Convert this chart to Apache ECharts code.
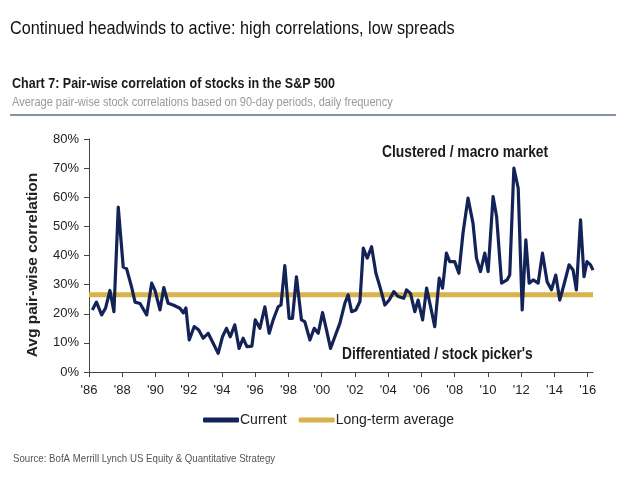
<!DOCTYPE html>
<html>
<head>
<meta charset="utf-8">
<script src="https://cdn.jsdelivr.net/npm/echarts@6/dist/echarts.min.js"></script>
<style>html,body{margin:0;padding:0;background:#fff;}#c{width:630px;height:490px;}</style>
</head>
<body>
<div id="c"></div>
<script>
var dates = [1986.2,1986.45,1986.76,1987.0,1987.26,1987.5,1987.76,1988.06,1988.26,1988.57,1988.77,1989.07,1989.47,1989.77,1989.97,1990.27,1990.5,1990.76,1991.06,1991.47,1991.67,1991.83,1992.03,1992.33,1992.6,1992.87,1993.17,1993.47,1993.77,1994.03,1994.27,1994.5,1994.77,1995.03,1995.27,1995.5,1995.8,1996.0,1996.28,1996.58,1996.84,1997.08,1997.38,1997.55,1997.78,1998.04,1998.24,1998.48,1998.78,1998.98,1999.29,1999.55,1999.79,2000.05,2000.29,2000.53,2000.79,2001.09,2001.39,2001.59,2001.8,2002.05,2002.3,2002.5,2002.74,2003.0,2003.26,2003.5,2003.8,2004.06,2004.34,2004.6,2004.94,2005.1,2005.34,2005.6,2005.8,2006.07,2006.31,2006.55,2006.8,2007.07,2007.27,2007.5,2007.7,2008.0,2008.25,2008.5,2008.8,2009.1,2009.31,2009.55,2009.81,2010.01,2010.31,2010.52,2010.82,2011.15,2011.31,2011.56,2011.82,2012.06,2012.28,2012.48,2012.72,2013.02,2013.28,2013.56,2013.82,2014.08,2014.32,2014.62,2014.88,2015.12,2015.32,2015.57,2015.78,2015.96,2016.17,2016.32];
var current = [21.3,24,19.6,22,28,20.7,56.6,36,35.5,29,24,23.5,19.6,30.5,28,21.3,29,23.6,23,21.9,20.3,22,11,15.6,14.4,11.6,13.3,9.9,6.4,12.1,15,12.1,16.2,8.1,11.6,8.7,8.9,17.9,15,22.4,13.3,17.9,22.4,23,36.5,18.4,18.4,32.7,17.9,17.3,11,15,13.3,20.4,14.4,8.1,12.1,16.7,23.6,26.5,20.7,21.3,24.2,42.5,39.1,43,33.9,29.3,23,24.7,27.6,25.9,25.3,28.2,27,20.7,24.7,17.9,28.8,22.4,15.6,32.2,28.8,40.8,37.9,37.9,33.9,47.7,59.7,51.1,39.1,34.5,40.8,34.5,60.2,53.4,30.5,31.6,33.3,70,63.1,21.3,45.4,30.5,31.6,30.5,40.8,31,28.2,33.3,24.7,31,36.8,35,28.2,52.2,32.7,37.9,36.8,35];
var longTermAverage = 26.5;
var xTicks = [1986,1988,1990,1992,1994,1996,1998,2000,2002,2004,2006,2008,2010,2012,2014,2016];

var sans = "'Liberation Sans',Arial,sans-serif";
var chart = echarts.init(document.getElementById('c'), null, {renderer:'canvas'});
var curData = dates.map(function(d,i){return [d, current[i]];});
var avgData = [[dates[0]-0.2, longTermAverage],[dates[dates.length-1], longTermAverage]];
function txt(x, y, s, font, fill, sx){
  return {type:'text', x:x, y:y, scaleX:sx, originX:0, z:10,
    style:{text:s, font:font, fill:fill, verticalAlign:'middle', align:'left'}};
}
chart.setOption({
  animation:false,
  backgroundColor:'#fff',
  graphic:[
    txt(10, 29, 'Continued headwinds to active: high correlations, low spreads', "19px "+sans, '#111', 0.854),
    txt(12, 84, 'Chart 7: Pair-wise correlation of stocks in the S&P 500', "bold 15px "+sans, '#1a1a1a', 0.835),
    txt(12, 103, 'Average pair-wise stock correlations based on 90-day periods, daily frequency', "12.5px "+sans, '#999', 0.88),
    txt(13, 459, 'Source: BofA Merrill Lynch US Equity & Quantitative Strategy', "11px "+sans, '#555', 0.88),
    {type:'line', shape:{x1:10,y1:115,x2:616,y2:115}, style:{stroke:'#5d6b8c', lineWidth:1.5}},
    txt(382, 153, 'Clustered / macro market', "bold 16px "+sans, '#1a1a1a', 0.865),
    txt(342, 355, "Differentiated / stock picker's", "bold 16px "+sans, '#1a1a1a', 0.857),
    {type:'text', x:33, y:265, rotation:Math.PI/2, z:10,
     style:{text:'Avg pair-wise correlation', font:"bold 15.5px "+sans, fill:'#222', align:'center', verticalAlign:'middle'}}
  ],
  legend:{
    bottom:58, left:198, itemGap:12,
    itemWidth:36, itemHeight:5, icon:'roundRect',
    textStyle:{fontFamily:sans, fontSize:14, color:'#222', padding:[0,0,0,-4]},
    data:['Current','Long-term average']
  },
  grid:{left:89, right:37, top:139, bottom:118},
  xAxis:{
    type:'value', min:1986, max:2016.32,
    axisLine:{lineStyle:{color:'#444', width:1}},
    axisTick:{show:true, length:5, customValues:xTicks, lineStyle:{color:'#444'}},
    axisLabel:{customValues:xTicks, fontFamily:sans, fontSize:13, color:'#222', margin:12,
      formatter:function(v){return "'"+String(v).slice(2);}},
    splitLine:{show:false}
  },
  yAxis:{
    type:'value', min:0, max:80, interval:10,
    axisLine:{show:true, lineStyle:{color:'#444', width:1}},
    axisTick:{show:true, length:5, lineStyle:{color:'#444'}},
    axisLabel:{fontFamily:sans, fontSize:13, color:'#222', margin:10,
      formatter:function(v){return v+'%';}},
    splitLine:{show:false}
  },
  series:[
    {name:'Current', type:'line', data:curData, showSymbol:false, z:3,
     lineStyle:{color:'#142357', width:3.2, join:'round'}, itemStyle:{color:'#142357'}},
    {name:'Long-term average', type:'line', data:avgData, showSymbol:false, z:2,
     lineStyle:{color:'#D8B24A', width:5}, itemStyle:{color:'#D8B24A'}}
  ]
});
</script>
</body>
</html>
